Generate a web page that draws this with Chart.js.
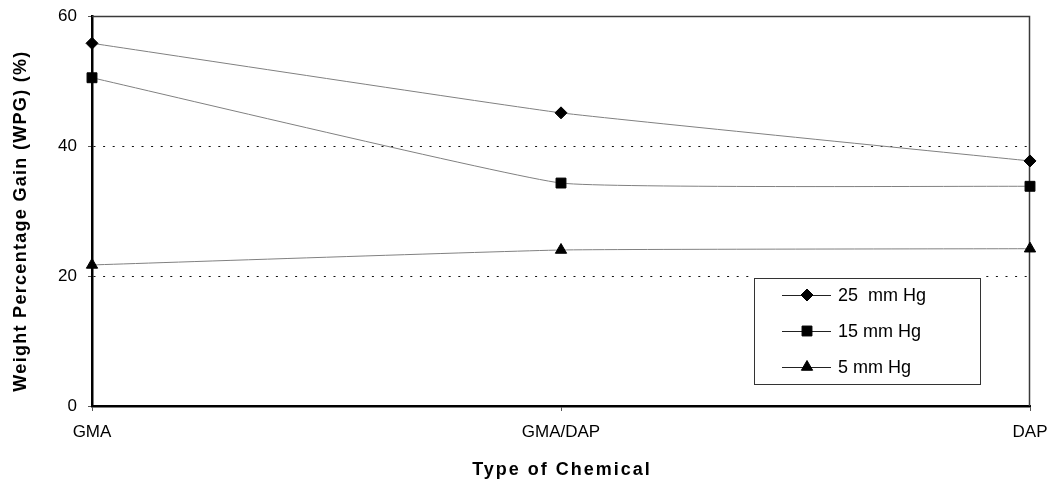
<!DOCTYPE html>
<html>
<head>
<meta charset="utf-8">
<script src="https://cdn.jsdelivr.net/npm/chart.js@4.4.1/dist/chart.umd.min.js"></script>
<style>
  html, body { margin: 0; padding: 0; background: #fff; }
  #wrap { width: 1056px; height: 483px; position: relative; }
</style>
</head>
<body>
<div id="wrap"><canvas id="c" width="1056" height="483"></canvas></div>
<script>
// Chemical treatments along the x axis
const categories = ['GMA', 'GMA/DAP', 'DAP'];

// Weight percentage gain at each vacuum level (%)
const wpg25 = [55.8, 45.1, 37.7];
const wpg15 = [50.5, 34.3, 33.8];
const wpg5  = [21.7, 24.0, 24.2];

const seriesLabels = ['25  mm Hg', '15 mm Hg', '5 mm Hg'];
const yTicks = [0, 20, 40, 60];

const yTitle = 'Weight Percentage Gain (WPG) (%)';
const xTitle = 'Type of Chemical';

const FONT = "'Liberation Sans', Arial, sans-serif";
const LINE = '#808080';

function series(label, data, style, radius) {
  return {
    label, data,
    borderColor: LINE,
    borderWidth: 1,
    tension: 0.1,
    pointStyle: style,
    pointRadius: radius,
    pointHoverRadius: radius,
    pointBackgroundColor: '#000',
    pointBorderColor: '#000',
    pointBorderWidth: 1
  };
}

// Frame, axis titles and the boxed legend inside the plot area
const decor = {
  id: 'decor',
  beforeDatasetsDraw(chart) {
    const { ctx, chartArea: a } = chart;
    ctx.save();
    ctx.strokeStyle = '#3a3a3a';
    ctx.lineWidth = 1.5;
    ctx.beginPath();
    ctx.moveTo(a.left, a.top + 0.5);
    ctx.lineTo(a.right - 0.5, a.top + 0.5);
    ctx.lineTo(a.right - 0.5, a.bottom);
    ctx.stroke();
    ctx.restore();
  },
  afterDraw(chart) {
    const { ctx, chartArea: a } = chart;
    ctx.save();
    // axis titles
    ctx.fillStyle = '#000';
    ctx.font = 'bold 18px ' + FONT;
    ctx.textAlign = 'center';
    ctx.textBaseline = 'middle';
    ctx.letterSpacing = '2px';
    ctx.fillText(xTitle, (a.left + a.right) / 2 + 1, 470);
    ctx.letterSpacing = '1.3px';
    ctx.translate(21, 221);
    ctx.rotate(-Math.PI / 2);
    ctx.fillText(yTitle, 0, 0);
    ctx.restore();

    // legend
    ctx.save();
    ctx.fillStyle = '#fff';
    ctx.fillRect(751, 274, 234, 114);
    ctx.strokeStyle = '#333';
    ctx.lineWidth = 1;
    ctx.strokeRect(754.5, 278.5, 226, 106);
    const rows = [295, 331, 367];
    chart.data.datasets.forEach((ds, i) => {
      const y = rows[i];
      ctx.strokeStyle = '#222';
      ctx.lineWidth = 1;
      ctx.beginPath();
      ctx.moveTo(782, y + 0.5);
      ctx.lineTo(831, y + 0.5);
      ctx.stroke();
      ctx.fillStyle = '#000';
      ctx.strokeStyle = '#000';
      Chart.helpers.drawPoint(ctx, {
        pointStyle: ds.pointStyle, radius: ds.pointRadius, rotation: 0, borderWidth: 1
      }, 807, y);
      ctx.fillStyle = '#000';
      ctx.font = '18px ' + FONT;
      ctx.textAlign = 'left';
      ctx.textBaseline = 'middle';
      ctx.fillText(ds.label, 838, y + 1);
    });
    ctx.restore();
  }
};

new Chart(document.getElementById('c'), {
  type: 'line',
  data: {
    labels: categories,
    datasets: [
      series(seriesLabels[0], wpg25, 'rectRot', 6),
      series(seriesLabels[1], wpg15, 'rect', 7),
      series(seriesLabels[2], wpg5, 'triangle', 6.5)
    ]
  },
  options: {
    responsive: false,
    animation: false,
    events: [],
    layout: { padding: { top: 16, right: 26, bottom: 0, left: 0 } },
    plugins: { legend: { display: false }, tooltip: { enabled: false } },
    scales: {
      x: {
        type: 'category',
        offset: false,
        afterFit(s) { s.height = 77; s.paddingLeft = 0; s.paddingRight = 0; },
        border: { display: true, color: '#000', width: 2.5 },
        grid: { drawOnChartArea: false, drawTicks: true, tickLength: 5, color: '#000', tickColor: '#555' },
        ticks: { color: '#000', font: { family: FONT, size: 17 }, padding: 11, maxRotation: 0, autoSkip: false }
      },
      y: {
        min: 0, max: 60,
        afterFit(s) { s.width = 92; s.paddingTop = 0; s.paddingBottom = 0; },
        afterBuildTicks(s) { s.ticks = yTicks.map(v => ({ value: v })); },
        border: { display: true, color: '#000', width: 2.5, dash: [2, 7.6] },
        grid: {
          color: (c) => (c.tick && c.tick.value === 0) ? 'rgba(0,0,0,0)' : '#111',
          tickBorderDash: [],
          tickColor: '#555',
          tickLength: 4,
          lineWidth: 1
        },
        ticks: { color: '#000', font: { family: FONT, size: 17 }, padding: 11 }
      }
    }
  },
  plugins: [decor]
});
</script>
</body>
</html>
